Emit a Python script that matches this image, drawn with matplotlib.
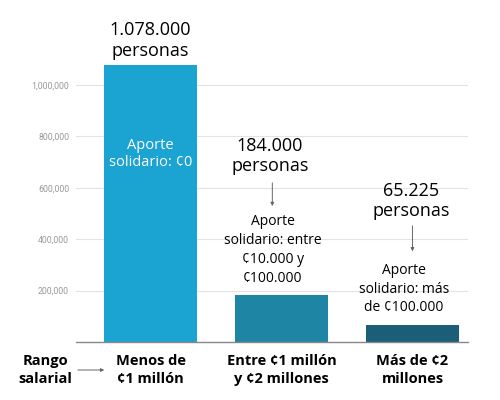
import matplotlib.pyplot as plt

categories = ["Menos de\n¢1 millón", "Entre ¢1 millón\ny ¢2 millones", "Más de ¢2\nmillones"]
personas = [1078000, 184000, 65225]
personas_txt = ["1.078.000\npersonas", "184.000\npersonas", "65.225\npersonas"]
aporte_txt = ["Aporte\nsolidario: ¢0", "Aporte\nsolidario: entre\n¢10.000 y\n¢100.000",
              "Aporte\nsolidario: más\nde ¢100.000"]
colors = ["#1ba3d2", "#1f85a4", "#1a5e78"]
yticks = [200000, 400000, 600000, 800000, 1000000]

plt.rcParams['font.family'] = ['Open Sans', 'DejaVu Sans']

fig = plt.figure(figsize=(5, 4), dpi=100)
ax = fig.add_axes([0.152, 0.145, 0.784, 0.855])

x = range(len(categories))
ax.bar(x, personas, width=0.71, color=colors, zorder=2)

ax.set_xlim(-0.569, 2.424)
ax.set_ylim(0, 1331000)

ax.set_yticks(yticks)
ax.set_yticklabels([f"{v:,}" for v in yticks], fontsize=6.3, color="#999999",
                   family="Roboto")
ax.tick_params(axis='y', length=0, pad=5)
ax.grid(axis='y', color="#e3e3e3", linewidth=0.8, zorder=0)

ax.set_xticks(list(x))
ax.set_xticklabels(categories, fontsize=10.5, fontweight='bold', linespacing=1.4)
ax.tick_params(axis='x', length=0, pad=8.5)

for s in ["top", "right", "left"]:
    ax.spines[s].set_visible(False)
ax.spines["bottom"].set_color("#888888")
ax.spines["bottom"].set_linewidth(1)

# cantidad de personas
ax.text(0, 1172000, personas_txt[0], ha='center', va='center', fontsize=13,
        linespacing=1.2)
ax.text(0.91, 724000, personas_txt[1], ha='center', va='center', fontsize=13,
        linespacing=1.2)
ax.text(1.99, 549000, personas_txt[2], ha='center', va='center', fontsize=13,
        linespacing=1.2)

# aporte solidario
ax.text(0, 732000, aporte_txt[0], ha='center', va='center', fontsize=10.5,
        color='white', linespacing=1.25)
ax.text(0.935, 358000, aporte_txt[1], ha='center', va='center', fontsize=10,
        linespacing=1.35)
ax.text(1.935, 206000, aporte_txt[2], ha='center', va='center', fontsize=10,
        linespacing=1.35)

arrow = dict(arrowstyle='-|>', color='#666666', lw=0.7, mutation_scale=5)
ax.annotate("", xy=(0.93, 518000), xytext=(0.93, 630000), arrowprops=arrow)
ax.annotate("", xy=(2.0, 342000), xytext=(2.0, 463000), arrowprops=arrow)

# rango salarial
ax.text(-0.805, -109000, "Rango\nsalarial", ha='center', va='center', fontsize=10.5,
        fontweight='bold', linespacing=1.4, clip_on=False)
ax.annotate("", xy=(-0.332, -109000), xytext=(-0.576, -109000),
            arrowprops=arrow, annotation_clip=False)

fig.savefig("out.png", dpi=100)
